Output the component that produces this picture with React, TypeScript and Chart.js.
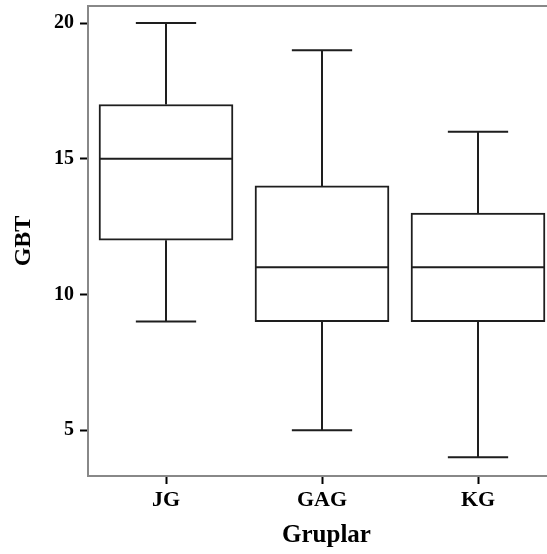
import { useEffect, useRef } from 'react';
import { Chart, registerables } from 'chart.js';

Chart.register(...registerables);

const categories = ['JG', 'GAG', 'KG'];
const minValues = [9, 5, 4];
const q1Values = [12, 9, 9];
const medianValues = [15, 11, 11];
const q3Values = [17, 14, 13];
const maxValues = [20, 19, 16];
const yTicks = [5, 10, 15, 20];

const LINE = '#1e1e1e';
const AXIS = '#888888';
const CANVAS_W = 565;
const CANVAS_H = 554;

const boxPlugin = {
  id: 'boxWhiskers',
  afterDatasetsDraw(chart: any) {
    const { ctx, scales, chartArea } = chart;
    const x = scales.x;
    const y = scales.y;
    const meta = chart.getDatasetMeta(0);
    ctx.save();
    ctx.strokeStyle = LINE;
    ctx.lineWidth = 2;
    categories.forEach((_, i) => {
      const el = meta.data[i];
      const cx = x.getPixelForValue(i + 1);
      const half = el.width / 2;
      const capHalf = el.width * 0.225;
      const yMin = y.getPixelForValue(minValues[i]);
      const yQ1 = y.getPixelForValue(q1Values[i]);
      const yMed = y.getPixelForValue(medianValues[i]);
      const yQ3 = y.getPixelForValue(q3Values[i]);
      const yMax = y.getPixelForValue(maxValues[i]);
      ctx.beginPath();
      ctx.moveTo(cx, yMax);
      ctx.lineTo(cx, yQ3);
      ctx.moveTo(cx, yQ1);
      ctx.lineTo(cx, yMin);
      ctx.moveTo(cx - capHalf, yMax);
      ctx.lineTo(cx + capHalf, yMax);
      ctx.moveTo(cx - capHalf, yMin);
      ctx.lineTo(cx + capHalf, yMin);
      ctx.moveTo(cx - half, yMed);
      ctx.lineTo(cx + half, yMed);
      ctx.stroke();
    });
    ctx.strokeStyle = AXIS;
    ctx.beginPath();
    ctx.moveTo(chartArea.left, chartArea.top);
    ctx.lineTo(chartArea.right, chartArea.top);
    ctx.stroke();
    ctx.restore();
  },
};

export default function App() {
  const ref = useRef<HTMLCanvasElement>(null);

  useEffect(() => {
    if (!ref.current) return;
    Chart.defaults.font.family = "'Liberation Serif', 'Times New Roman', serif";
    Chart.defaults.color = '#000';
    const chart = new Chart(ref.current, {
      type: 'bar',
      data: {
        datasets: [
          {
            data: categories.map((_, i) => ({ x: i + 1, y: [q1Values[i], q3Values[i]] })) as any,
            backgroundColor: '#ffffff',
            borderColor: LINE,
            borderWidth: 2,
            borderSkipped: false,
            barThickness: 134,
          },
        ],
      },
      options: {
        responsive: false,
        animation: false,
        layout: { padding: { top: 6, left: 0, right: 0, bottom: 0 } },
        plugins: {
          legend: { display: false },
          tooltip: { enabled: false },
        },
        scales: {
          x: {
            type: 'linear',
            offset: false,
            min: 0.5,
            max: 0.5 + (CANVAS_W - 88) / 156,
            afterBuildTicks: (scale: any) => {
              scale.ticks = categories.map((_, i) => ({ value: i + 1 }));
            },
            afterFit: (scale: any) => {
              scale.height = 78;
              scale.paddingLeft = 0;
              scale.paddingRight = 0;
            },
            ticks: {
              callback: (v: any) => categories[Math.round(Number(v)) - 1] ?? '',
              font: { size: 22, weight: 'bold' },
              padding: 3,
              maxRotation: 0,
              autoSkip: false,
            },
            grid: {
              display: true,
              offset: false,
              drawOnChartArea: false,
              drawTicks: true,
              tickLength: 8,
              tickColor: '#000',
              tickWidth: 2,
            },
            border: { display: true, color: AXIS, width: 2 },
            title: {
              display: true,
              text: 'Gruplar',
              font: { size: 25, weight: 'bold' },
              padding: { top: 0, bottom: 3 },
            },
          },
          y: {
            type: 'linear',
            min: 3.31,
            max: 20.63,
            afterBuildTicks: (scale: any) => {
              scale.ticks = yTicks.map((v) => ({ value: v }));
            },
            afterFit: (scale: any) => {
              scale.width = 88;
              scale.paddingTop = 0;
              scale.paddingBottom = 0;
            },
            ticks: {
              font: { size: 20, weight: 'bold' },
              padding: 6,
            },
            grid: {
              display: true,
              drawOnChartArea: false,
              drawTicks: true,
              tickLength: 8,
              tickColor: '#000',
              tickWidth: 2,
            },
            border: { display: true, color: AXIS, width: 2 },
            title: {
              display: true,
              text: 'GBT',
              font: { size: 24, weight: 'bold' },
              padding: { top: 9, bottom: 0 },
            },
          },
        },
      },
      plugins: [boxPlugin],
    });
    return () => chart.destroy();
  }, []);

  return (
    <div style={{ position: 'fixed', left: 0, top: 0, width: 547, height: 554, background: '#fff', overflow: 'hidden' }}>
      <canvas ref={ref} width={CANVAS_W} height={CANVAS_H} style={{ display: 'block' }} />
    </div>
  );
}
